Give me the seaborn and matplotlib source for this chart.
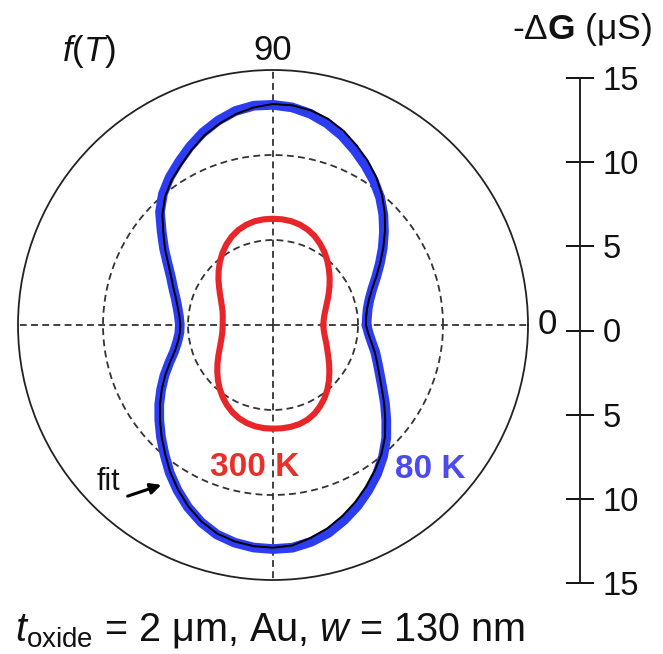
import numpy as np
import pandas as pd
import matplotlib
matplotlib.use("Agg")
import matplotlib.pyplot as plt
import seaborn as sns

# Field angle (deg) and magnitude of the conductance change -dG (uS), every 5 degrees
angle_deg = list(range(0, 360, 5))

dG_300K = [2.96, 2.99, 3.06, 3.18, 3.34, 3.55, 3.79, 4.06, 4.35, 4.65, 4.96, 5.26, 5.53, 5.78, 5.97, 6.11, 6.20, 6.24,
           6.25, 6.24, 6.20, 6.10, 5.95, 5.74, 5.48, 5.18, 4.86, 4.52, 4.19, 3.87, 3.60, 3.37, 3.20, 3.07, 3.00, 2.97,
           2.96, 2.98, 3.04, 3.14, 3.29, 3.48, 3.72, 3.99, 4.28, 4.58, 4.88, 5.17, 5.43, 5.66, 5.84, 5.97, 6.05, 6.09,
           6.10, 6.10, 6.08, 6.03, 5.93, 5.76, 5.53, 5.27, 4.97, 4.65, 4.33, 4.03, 3.76, 3.53, 3.35, 3.19, 3.07, 2.99]

dG_80K = [5.50, 5.55, 5.66, 5.88, 6.22, 6.70, 7.26, 7.88, 8.52, 9.18, 9.80, 10.35, 10.85, 11.35, 11.85, 12.28, 12.62, 12.85,
          12.95, 12.95, 12.78, 12.45, 12.05, 11.57, 11.07, 10.60, 10.07, 9.40, 8.55, 7.82, 7.15, 6.62, 6.24, 5.92, 5.70, 5.55,
          5.48, 5.53, 5.72, 6.02, 6.50, 7.05, 7.60, 8.17, 8.73, 9.32, 9.93, 10.60, 11.23, 11.83, 12.35, 12.76, 13.00, 13.14,
          13.18, 13.15, 12.95, 12.65, 12.22, 11.75, 11.22, 10.68, 10.08, 9.42, 8.70, 8.04, 7.43, 6.94, 6.55, 6.23, 5.90, 5.65]

dG_fit = [5.47, 5.50, 5.62, 5.85, 6.20, 6.70, 7.28, 7.92, 8.60, 9.30, 9.98, 10.60, 11.15, 11.65, 12.15, 12.55, 12.82, 12.97,
          13.00, 12.85, 12.60, 12.25, 11.85, 11.35, 10.85, 10.40, 9.87, 9.20, 8.42, 7.75, 7.10, 6.60, 6.22, 5.90, 5.68, 5.52,
          5.45, 5.50, 5.68, 5.98, 6.45, 7.00, 7.55, 8.12, 8.68, 9.27, 9.88, 10.55, 11.18, 11.78, 12.30, 12.70, 12.93, 13.06,
          13.10, 13.02, 12.72, 12.38, 11.95, 11.48, 10.97, 10.45, 9.92, 9.32, 8.62, 7.98, 7.38, 6.90, 6.52, 6.20, 5.88, 5.62]

r_ticks = [-15, -10, -5, 0, 5, 10, 15]
r_tick_labels = ["15", "10", "5", "0", "5", "10", "15"]

sns.set_theme(style="white")
plt.rcParams["font.family"] = ["Liberation Sans", "DejaVu Sans"]
plt.rcParams["mathtext.fontset"] = "custom"
plt.rcParams["mathtext.rm"] = "Liberation Sans"
plt.rcParams["mathtext.it"] = "Liberation Sans:italic"
plt.rcParams["mathtext.bf"] = "Liberation Sans:bold"

W, H = 663, 654
fig = plt.figure(figsize=(W / 100, H / 100), dpi=100)
fig.patch.set_facecolor("white")

# polar panel: centre (273, 325) px, outer radius 255 px
cx, cy, R = 273, 325, 255
ax = fig.add_axes([(cx - R) / W, (H - cy - R) / H, 2 * R / W, 2 * R / H], projection="polar")
ax.set_facecolor("white")


def closed(vals):
    return np.append(np.asarray(vals, dtype=float), vals[0])


theta = np.deg2rad(closed(angle_deg))
theta[-1] = 2 * np.pi
n = len(theta)

df = pd.DataFrame({
    "theta": np.concatenate([theta, theta, theta]),
    "dG": np.concatenate([closed(dG_80K), closed(dG_fit), closed(dG_300K)]),
    "curve": ["80 K"] * n + ["fit"] * n + ["300 K"] * n,
})

sns.lineplot(data=df[df.curve == "80 K"], x="theta", y="dG", ax=ax, sort=False, estimator=None,
             color="#2b3cf2", linewidth=7.0, legend=False, zorder=3)
sns.lineplot(data=df[df.curve == "fit"], x="theta", y="dG", ax=ax, sort=False, estimator=None,
             color="black", linewidth=1.4, legend=False, zorder=4)
sns.lineplot(data=df[df.curve == "300 K"], x="theta", y="dG", ax=ax, sort=False, estimator=None,
             color="#e8262a", linewidth=4.4, legend=False, zorder=3)

ax.set_ylim(0, 15)
ax.set_yticks([5, 10])
ax.set_yticklabels([])
ax.set_xticks(np.deg2rad([0, 90, 180, 270]))
ax.set_xticklabels(["0", "90", "", ""])
ax.tick_params(axis="x", labelsize=25, pad=1, colors="#111111")
ax.set_xlabel("")
ax.set_ylabel("")
ax.grid(True, color="#333333", linestyle=(0, (3.8, 2.4)), linewidth=1.3)
ax.spines["polar"].set_color("#222222")
ax.spines["polar"].set_linewidth(1.3)

# separate conductance scale on the right
y_top, y_bot, x_ax = 78, 583, 580
axr = fig.add_axes([x_ax / W, (H - y_bot) / H, 0.0001, (y_bot - y_top) / H])
axr.patch.set_visible(False)
axr.set_ylim(-15, 15)
for s in ["top", "bottom", "left"]:
    axr.spines[s].set_visible(False)
axr.spines["right"].set_color("#222222")
axr.spines["right"].set_linewidth(1.4)
axr.set_xticks([])
axr.yaxis.tick_right()
axr.set_yticks(r_ticks)
axr.set_yticklabels(r_tick_labels)
axr.tick_params(axis="y", direction="inout", length=20, width=1.4, pad=6, labelsize=23.5,
                colors="#111111", right=True, left=False)

fig.text(582 / W, 1 - 30 / H, r"-Δ$\mathbf{G}$ (μS)", ha="center", va="center", fontsize=25.5, color="#111111")
fig.text(89 / W, 1 - 52 / H, r"$f$($T$)", ha="center", va="center", fontsize=25, color="#111111")
fig.text(15 / W, 1 - 640 / H, r"$t_{\mathrm{oxide}}$ = 2 μm, Au, $w$ = 130 nm", ha="left", va="baseline",
         fontsize=28.5, color="#111111")

fig.text(255 / W, 1 - 468 / H, "300 K", ha="center", va="center", fontsize=24, fontweight="bold", color="#e8302a")
fig.text(430 / W, 1 - 469 / H, "80 K", ha="center", va="center", fontsize=24, fontweight="bold", color="#4b4bf0")
fig.text(108 / W, 1 - 482 / H, "fit", ha="center", va="center", fontsize=22, color="#111111")
fig.add_artist(matplotlib.patches.FancyArrowPatch(
    posA=(125 / W, 1 - 497 / H), posB=(164 / W, 1 - 484 / H), transform=fig.transFigure,
    arrowstyle="-|>", mutation_scale=16, linewidth=2.2, color="black"))

fig.savefig("out.png", dpi=100, facecolor="white")
